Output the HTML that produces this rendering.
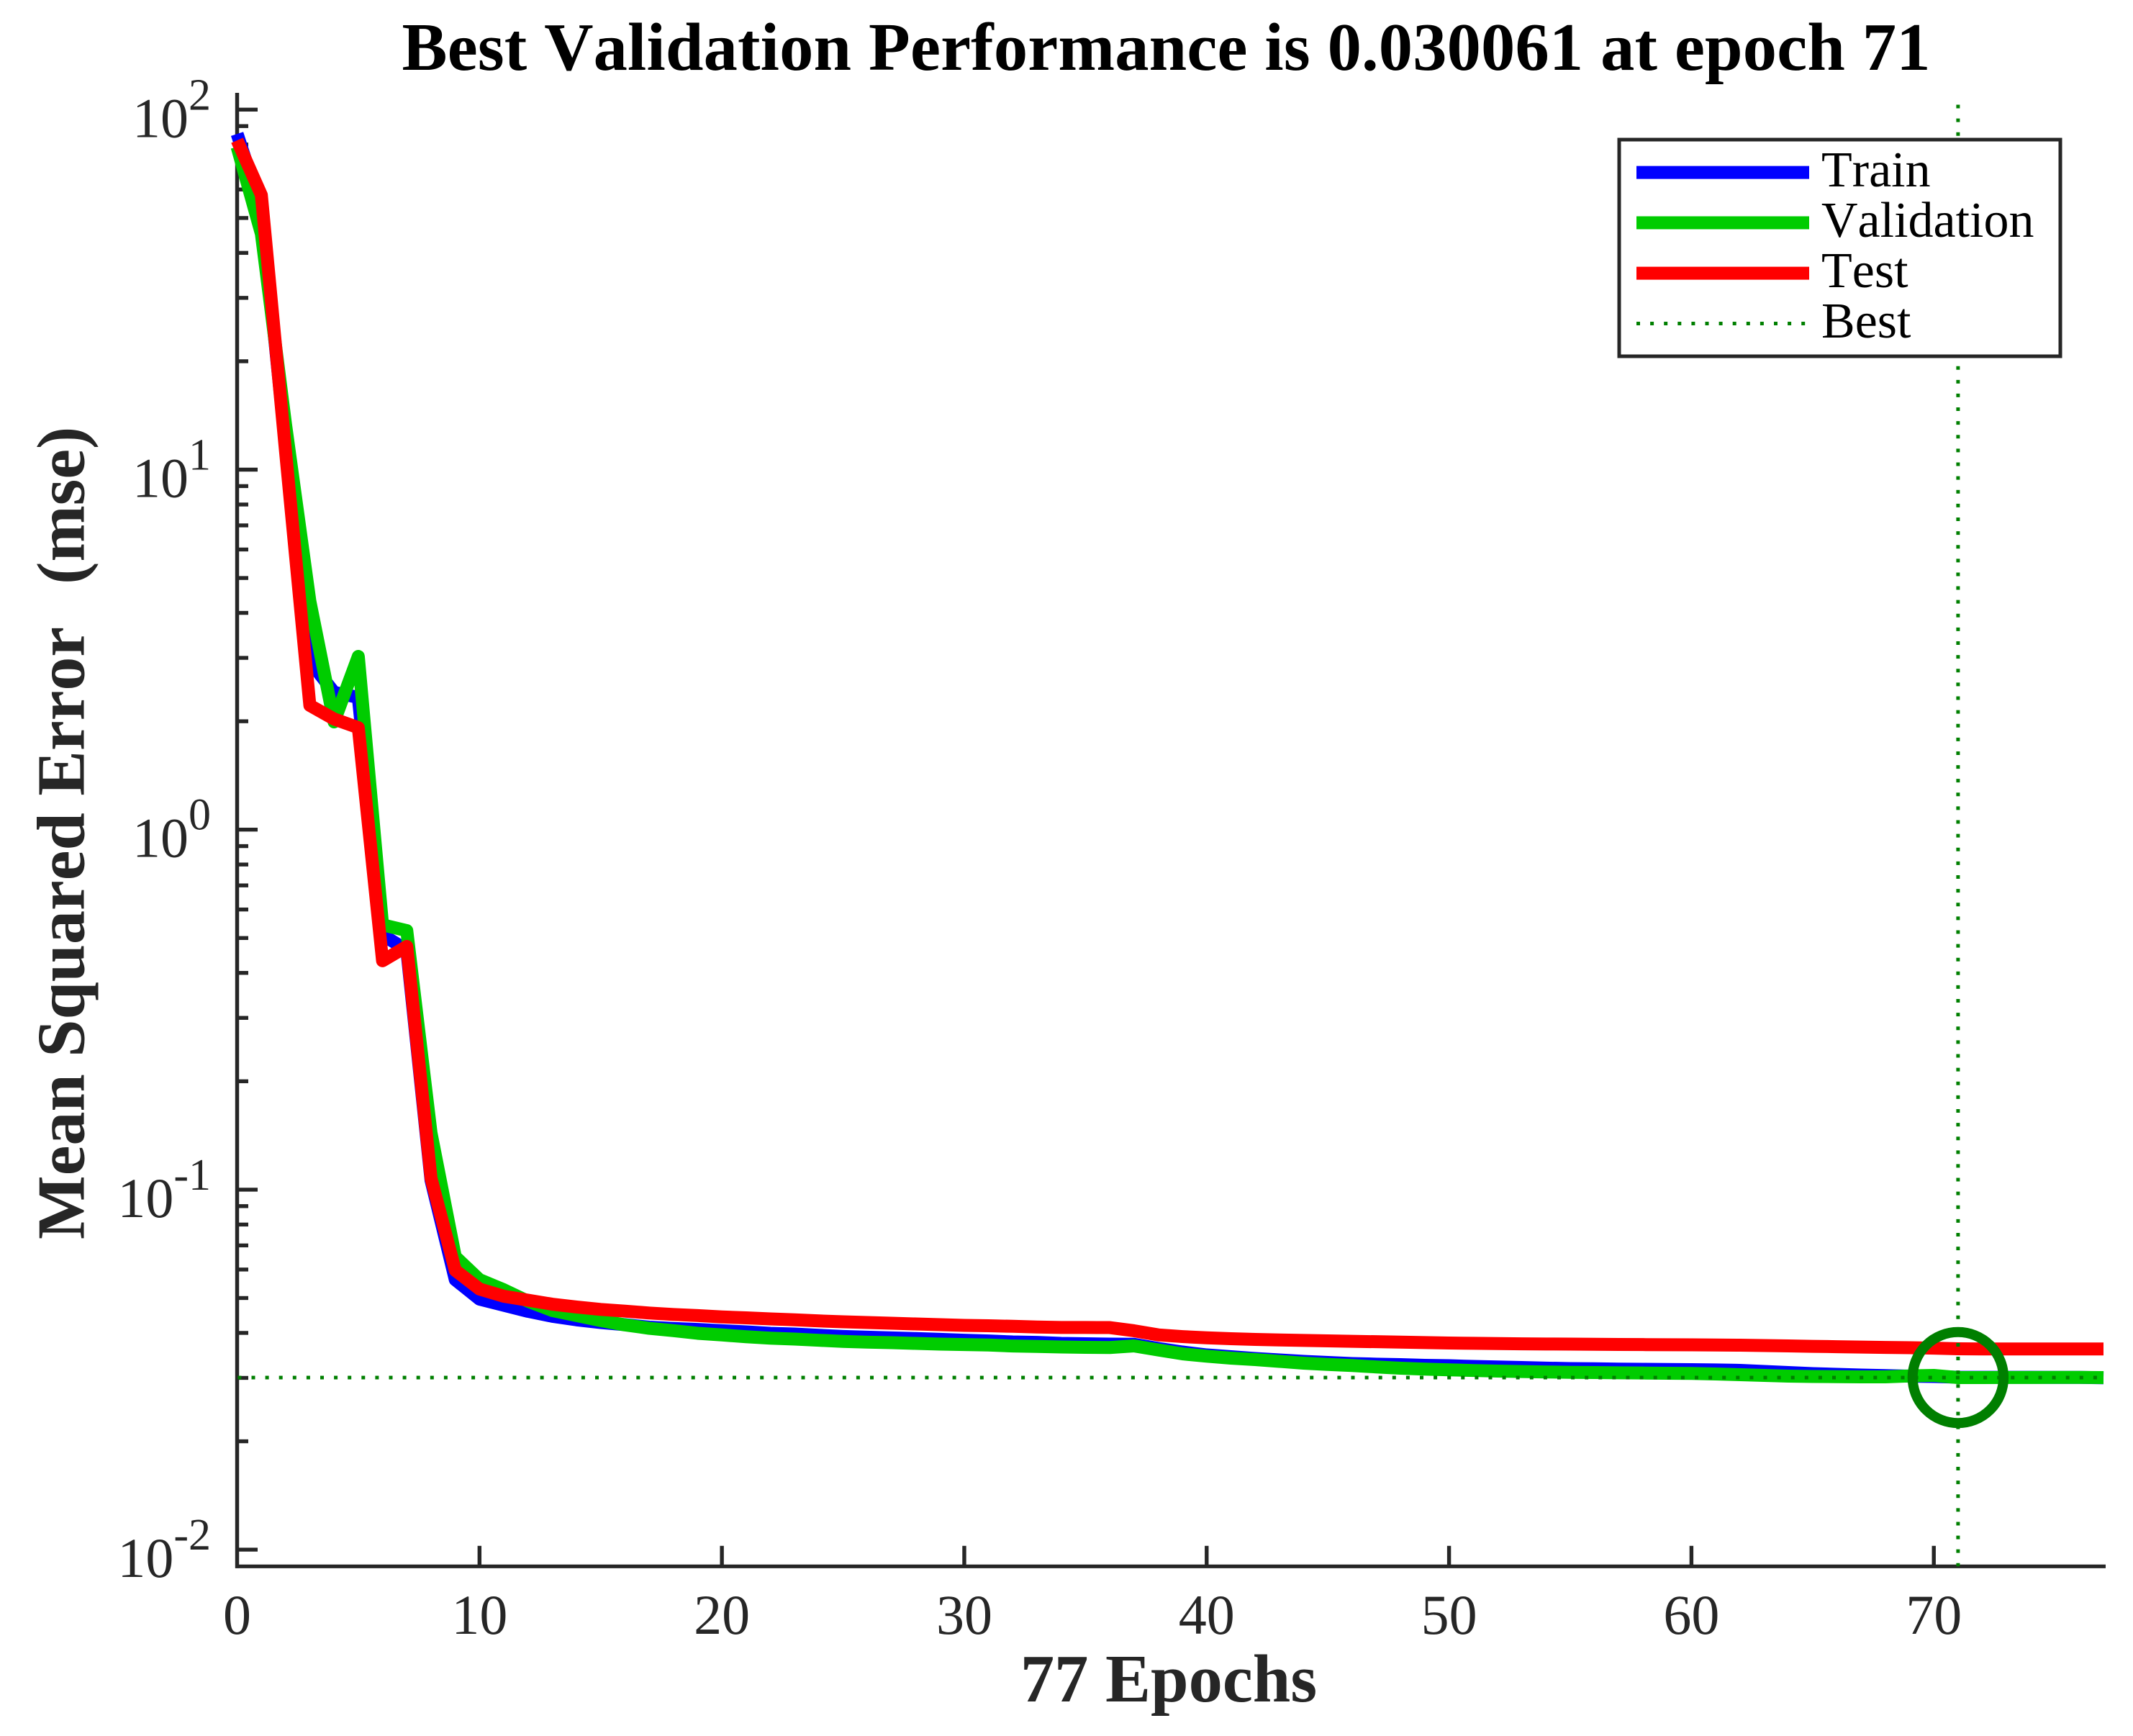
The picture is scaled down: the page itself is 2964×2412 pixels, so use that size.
<!DOCTYPE html>
<html lang="en">
<head>
<meta charset="utf-8">
<title>Best Validation Performance</title>
<style>
html,body{margin:0;padding:0;background:#fff;}
svg{display:block;font-family:"Liberation Serif",serif;font-kerning:none;}
</style>
</head>
<body>
<svg id="chart" xmlns="http://www.w3.org/2000/svg" width="2964" height="2412" viewBox="0 0 2964 2412">
  <rect x="0" y="0" width="2964" height="2412" fill="#ffffff"/>
  <g id="axes-layer"></g>
  <g id="series-layer"></g>
  <text x="558.5" y="97" font-size="94.5" font-weight="700" fill="#000000" textLength="2124" lengthAdjust="spacing">Best Validation Performance is 0.030061 at epoch 71</text>
  <text x="1624" y="2364" font-size="94.5" font-weight="700" fill="#262626" text-anchor="middle">77 Epochs</text>
  <text transform="translate(116.7 1722) rotate(-90)" font-size="94" font-weight="700" fill="#262626">Mean Squared Error &#160;<tspan dx="12">(mse)</tspan></text>
  <g>
    <rect x="2250" y="194" width="613" height="301" fill="#ffffff" stroke="#262626" stroke-width="5"/>
    <line x1="2274" x2="2514" y1="239.6" y2="239.6" stroke="#0000ff" stroke-width="18"/>
    <line x1="2274" x2="2514" y1="309.5" y2="309.5" stroke="#00cc00" stroke-width="18"/>
    <line x1="2274" x2="2514" y1="379.6" y2="379.6" stroke="#ff0000" stroke-width="18"/>
    <line x1="2274" x2="2514" y1="449.5" y2="449.5" stroke="#007f00" stroke-width="5" stroke-dasharray="5 14.1"/>
    <text x="2531" y="259" font-size="70" fill="#000000">Train</text>
    <text x="2531" y="329" font-size="70" fill="#000000">Validation</text>
    <text x="2531" y="399" font-size="70" fill="#000000">Test</text>
    <text x="2531" y="469" font-size="70" fill="#000000">Best</text>
  </g>
</svg>
<script>
const xTickValues = [0, 10, 20, 30, 40, 50, 60, 70];
const yDecades = [2, 1, 0, -1, -2];
const yMinorMultipliers = [2, 3, 4, 5, 6, 7, 8, 9];
const bestEpoch = 71;
const bestValue = 0.030061;
const maxEpoch = 77;

const trainValues = [
  85.6, 53.3, 11.61, 2.932, 2.406, 2.330, 0.5099, 0.4630, 0.1061, 0.05622,
  0.04965, 0.04775, 0.04592, 0.04450, 0.04349, 0.04275, 0.04216, 0.04149, 0.04115, 0.04089,
  0.04058, 0.04027, 0.03990, 0.03972, 0.03940, 0.03911, 0.03893, 0.03875, 0.03858, 0.03840,
  0.03816, 0.03799, 0.03775, 0.03764, 0.03741, 0.03733, 0.03724, 0.03719, 0.03622, 0.03540,
  0.03475, 0.03435, 0.03396, 0.03365, 0.03334, 0.03311, 0.03288, 0.03276, 0.03266, 0.03251,
  0.03243, 0.03228, 0.03217, 0.03206, 0.03194, 0.03184, 0.03180, 0.03174, 0.03170, 0.03165,
  0.03162, 0.03157, 0.03148, 0.03126, 0.03105, 0.03083, 0.03069, 0.03055, 0.03044, 0.03034,
  0.03027, 0.03013, 0.03012, 0.03011, 0.03011, 0.03010, 0.03010, 0.03003
];
const validationValues = [
  78.8, 45.2, 13.33, 4.317, 1.992, 3.028, 0.5439, 0.5242, 0.1438, 0.06514,
  0.05622, 0.05272, 0.04897, 0.04617, 0.04470, 0.04329, 0.04210, 0.04120, 0.04058, 0.03990,
  0.03948, 0.03904, 0.03868, 0.03845, 0.03816, 0.03788, 0.03770, 0.03758, 0.03741, 0.03724,
  0.03712, 0.03702, 0.03678, 0.03668, 0.03656, 0.03648, 0.03643, 0.03681, 0.03586, 0.03499,
  0.03446, 0.03404, 0.03373, 0.03334, 0.03296, 0.03269, 0.03247, 0.03218, 0.03192, 0.03174,
  0.03158, 0.03145, 0.03133, 0.03124, 0.03116, 0.03109, 0.03105, 0.03099, 0.03095, 0.03091,
  0.03087, 0.03077, 0.03062, 0.03048, 0.03034, 0.03027, 0.03024, 0.03020, 0.03020, 0.03038,
  0.03048, 0.030061, 0.03006, 0.03008, 0.03008, 0.03009, 0.03009, 0.03006
];
const testValues = [
  82.15, 57.9, 11.19, 2.214, 2.029, 1.920, 0.4322, 0.4738, 0.1076, 0.05969,
  0.05296, 0.05058, 0.04931, 0.04807, 0.04720, 0.04649, 0.04598, 0.04543, 0.04501, 0.04470,
  0.04431, 0.04405, 0.04374, 0.04350, 0.04319, 0.04295, 0.04275, 0.04256, 0.04236, 0.04216,
  0.04197, 0.04187, 0.04172, 0.04153, 0.04143, 0.04141, 0.04139, 0.04055, 0.03950, 0.03907,
  0.03877, 0.03854, 0.03836, 0.03824, 0.03813, 0.03802, 0.03791, 0.03781, 0.03770, 0.03760,
  0.03750, 0.03743, 0.03736, 0.03731, 0.03726, 0.03723, 0.03719, 0.03716, 0.03712, 0.03709,
  0.03707, 0.03702, 0.03697, 0.03690, 0.03681, 0.03671, 0.03663, 0.03654, 0.03646, 0.03638,
  0.03628, 0.03614, 0.03609, 0.03609, 0.03609, 0.03609, 0.03609, 0.03609
];

const NS = 'http://www.w3.org/2000/svg';
const axisLeft = 329.5, axisRight = 2923, axisTop = 129, axisBottom = 2176.3;
const inkColor = '#262626';

function xScale(epoch) {
  return axisLeft + (epoch / maxEpoch) * (axisRight - axisLeft);
}
function yScale(value) {
  return 152.3 + (2 - Math.log10(value)) * 500.2;
}
function make(tag, attrs, parent) {
  const node = document.createElementNS(NS, tag);
  Object.keys(attrs).forEach(function (k) { node.setAttribute(k, attrs[k]); });
  parent.appendChild(node);
  return node;
}

const axesLayer = document.getElementById('axes-layer');
const seriesLayer = document.getElementById('series-layer');

// Y minor ticks
yDecades.forEach(function (d) {
  yMinorMultipliers.forEach(function (m) {
    const v = m * Math.pow(10, d - 1);
    const y = yScale(v);
    if (y < axisTop + 5 || y > axisBottom - 10) return;
    const el = make('line', { x1: axisLeft, x2: axisLeft + 15.5, y1: y, y2: y, stroke: inkColor, 'stroke-width': 5.4 }, axesLayer);
    
    
  });
});

// Y major ticks and labels
yDecades.forEach(function (d) {
  const y = yScale(Math.pow(10, d));
  const tick = make('line', { x1: axisLeft, x2: axisLeft + 28.5, y1: y, y2: y, stroke: inkColor, 'stroke-width': 5.4 }, axesLayer);
  
  
  const label = make('text', { x: 293, y: y + 38, 'font-size': 78, fill: inkColor, 'text-anchor': 'end' }, axesLayer);
  
  
  label.appendChild(document.createTextNode('10'));
  const sup = make('tspan', { dy: -38, 'font-size': 62 }, label);
  sup.textContent = String(d);
});

// X ticks and labels
xTickValues.forEach(function (t) {
  const x = xScale(t);
  if (t !== 0) {
    const tick = make('line', { x1: x, x2: x, y1: axisBottom, y2: axisBottom - 28.5, stroke: inkColor, 'stroke-width': 5.4 }, axesLayer);
    
    
  }
  const label = make('text', { x: x, y: 2270, 'font-size': 78, fill: inkColor, 'text-anchor': 'middle' }, axesLayer);
  
  
  label.textContent = String(t);
});

// Axis lines
const yAxisLine = make('line', { x1: axisLeft, x2: axisLeft, y1: axisTop, y2: axisBottom + 2.4, stroke: inkColor, 'stroke-width': 5.4 }, axesLayer);


const xAxisLine = make('line', { x1: axisLeft - 2.5, x2: axisRight + 3, y1: axisBottom, y2: axisBottom, stroke: inkColor, 'stroke-width': 5.2 }, axesLayer);



function seriesPoints(values) {
  return values.map(function (v, i) {
    return xScale(i).toFixed(2) + ',' + yScale(v).toFixed(2);
  }).join(' ');
}
const lineStyle = { fill: 'none', 'stroke-width': 18, 'stroke-linejoin': 'round', 'stroke-linecap': 'butt' };

const trainLine = make('polyline', Object.assign({ points: seriesPoints(trainValues), stroke: '#0000ff' }, lineStyle), seriesLayer);



const validationLine = make('polyline', Object.assign({ points: seriesPoints(validationValues), stroke: '#00cc00' }, lineStyle), seriesLayer);



const testLine = make('polyline', Object.assign({ points: seriesPoints(testValues), stroke: '#ff0000' }, lineStyle), seriesLayer);



const bestX = xScale(bestEpoch);
const bestY = yScale(bestValue);

const bestHorizontal = make('line', { x1: 330.4, x2: axisRight, y1: bestY, y2: bestY, stroke: '#007f00', 'stroke-width': 5, 'stroke-dasharray': '5 14.1' }, seriesLayer);



const bestVertical = make('line', { x1: bestX, x2: bestX, y1: 145.5, y2: axisBottom, stroke: '#007f00', 'stroke-width': 5, 'stroke-dasharray': '5 14.116' }, seriesLayer);



const bestCircle = make('circle', { cx: bestX, cy: bestY, r: 63.2, fill: 'none', stroke: '#007f00', 'stroke-width': 14 }, seriesLayer);


</script>
</body>
</html>
